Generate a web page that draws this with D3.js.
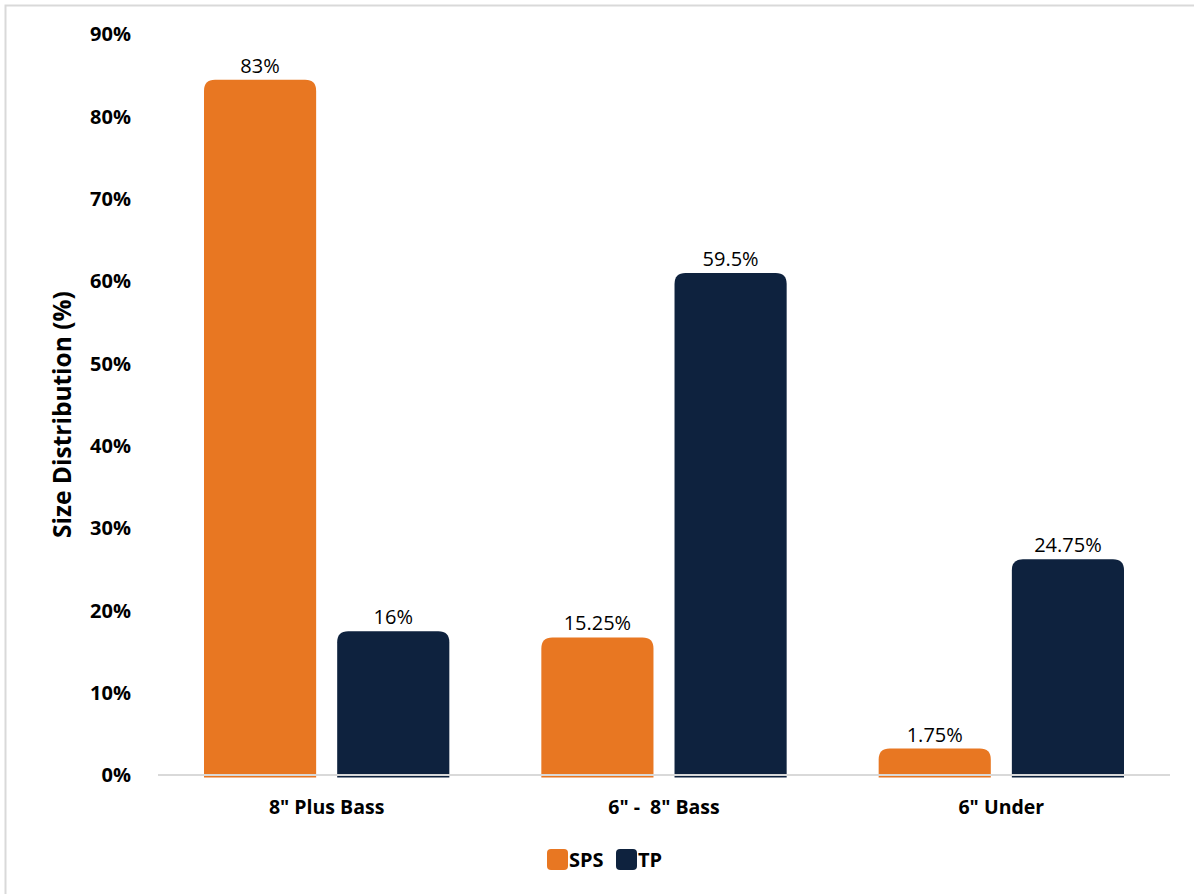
<!DOCTYPE html>
<html>
<head>
<meta charset="utf-8">
<title>Size Distribution</title>
<script src="https://cdn.jsdelivr.net/npm/d3@7"></script>
<style>
  body { margin: 0; background: #fff; }
  svg { display: block; }
</style>
</head>
<body>
<script>
  // data
  const categories = ['8" Plus Bass', '6" -  8" Bass', '6" Under'];
  const seriesNames = ['SPS', 'TP'];
  const spsValues = [83, 15.25, 1.75];
  const tpValues = [16, 59.5, 24.75];
  const dataLabels = [['83%', '15.25%', '1.75%'], ['16%', '59.5%', '24.75%']];
  const yTicks = [0, 10, 20, 30, 40, 50, 60, 70, 80, 90];
  const colors = ['#e87722', '#0e223e'];

  const W = 1194, H = 894;
  const x0 = 158, x1 = 1170, yBase = 775, yTop = 34;

  const svg = d3.select('body').append('svg').attr('width', W).attr('height', H);

  // frame
  svg.append('rect').attr('x', 5.5).attr('y', 5.5).attr('width', W + 10).attr('height', H + 10)
    .attr('fill', 'none').attr('stroke', '#d9d9d9').attr('stroke-width', 2);

  const x = d3.scaleBand().domain(categories).range([x0, x1]).paddingInner(0).paddingOuter(0);
  const inner = d3.scaleBand().domain(seriesNames).range([46, x.bandwidth() - 46]).paddingInner(0.158);
  const y = d3.scaleLinear().domain([0, 90]).range([yBase, yTop]);

  // y tick labels
  svg.append('g').selectAll('text').data(yTicks).enter().append('text')
    .attr('x', 131).attr('y', d => y(d))
    .attr('dy', '0.36em')
    .attr('text-anchor', 'end')
    .style('font-family', '"Open Sans", sans-serif')
    .style('font-weight', 'bold')
    .style('font-size', '20px')
    .attr('fill', '#000')
    .text(d => d + '%');

  // y title
  svg.append('text')
    .attr('transform', 'translate(71,' + ((yBase + yTop) / 2 + 10) + ') rotate(-90)')
    .attr('text-anchor', 'middle')
    .style('font-family', '"Open Sans", sans-serif')
    .style('font-weight', 'bold')
    .style('font-size', '24.5px')
    .text('Size Distribution (%)');

  // bars, rounded top cap sits on top of the value
  const r = 11;
  function barPath(xl, w, yv) {
    const t = yv - 12;
    return 'M' + xl + ',' + (yBase + 2.5) +
      'V' + (t + r) + 'Q' + xl + ',' + t + ' ' + (xl + r) + ',' + t +
      'H' + (xl + w - r) + 'Q' + (xl + w) + ',' + t + ' ' + (xl + w) + ',' + (t + r) +
      'V' + (yBase + 2.5) + 'Z';
  }

  const series = [spsValues, tpValues];
  series.forEach(function(vals, si) {
    const g = svg.append('g');
    g.selectAll('path').data(vals).enter().append('path')
      .attr('d', (d, i) => barPath(x(categories[i]) + inner(seriesNames[si]), inner.bandwidth(), y(d)))
      .attr('fill', colors[si]);
    g.selectAll('text').data(vals).enter().append('text')
      .attr('x', (d, i) => x(categories[i]) + inner(seriesNames[si]) + inner.bandwidth() / 2)
      .attr('y', d => y(d) - 19)
      .attr('text-anchor', 'middle')
      .style('font-family', '"Open Sans", sans-serif')
      .style('font-size', '20px')
      .attr('fill', '#000')
      .text((d, i) => dataLabels[si][i]);
  });

  // x axis line
  svg.append('line').attr('x1', x0).attr('x2', x1).attr('y1', yBase).attr('y2', yBase)
    .attr('stroke', '#d9d9d9').attr('stroke-width', 2);

  // category labels
  svg.append('g').selectAll('text').data(categories).enter().append('text')
    .attr('x', d => x(d) + x.bandwidth() / 2)
    .attr('y', 814)
    .attr('text-anchor', 'middle')
    .style('font-family', '"Open Sans", sans-serif')
    .style('font-weight', 'bold')
    .style('font-size', '19.5px')
    .style('white-space', 'pre')
    .attr('xml:space', 'preserve')
    .text(d => d);

  // legend
  const legend = svg.append('g');
  const legX = [547, 616];
  seriesNames.forEach(function(n, i) {
    legend.append('rect').attr('x', legX[i]).attr('y', 849).attr('width', 21).attr('height', 21)
      .attr('rx', 4).attr('fill', colors[i]);
    legend.append('text').attr('x', legX[i] + 22).attr('y', 867)
      .style('font-family', '"Open Sans", sans-serif')
      .style('font-weight', 'bold')
      .style('font-size', '20px')
      .text(n);
  });
</script>
</body>
</html>
